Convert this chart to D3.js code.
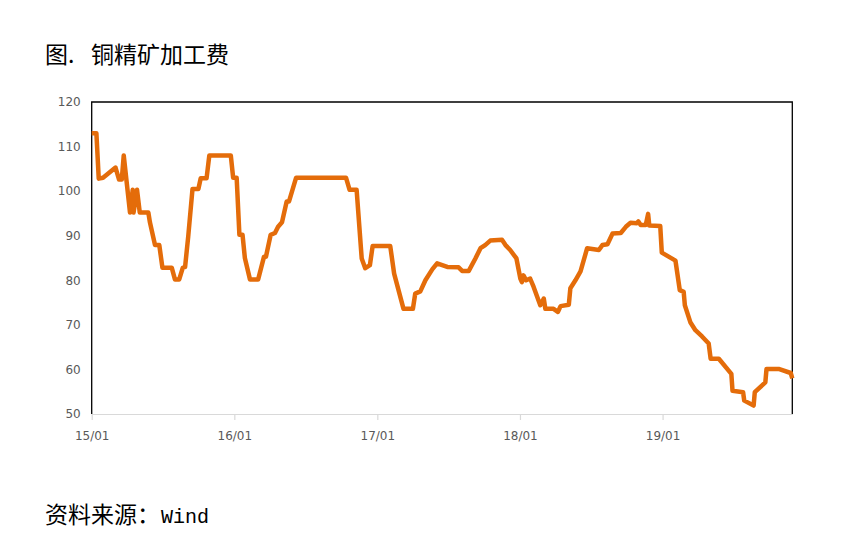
<!DOCTYPE html>
<html>
<head>
<meta charset="utf-8">
<script src="https://cdn.jsdelivr.net/npm/d3@7"></script>
<style>
body{margin:0;background:#fff;}
text{font-family:"DejaVu Sans",sans-serif;}
</style>
</head>
<body>
<div id="plot"></div>
<script>
// 铜精矿加工费 (Wind)

var dates = [
 "2015-01-01","2015-01-13","2015-01-19","2015-01-30","2015-03-03","2015-03-12","2015-03-19","2015-03-24","2015-04-09","2015-04-16","2015-04-18","2015-04-27","2015-05-04","2015-05-26","2015-05-30","2015-06-12","2015-06-23","2015-07-01","2015-07-25","2015-08-02","2015-08-13","2015-08-22","2015-08-28","2015-09-05","2015-09-16","2015-10-01","2015-10-07","2015-10-22","2015-10-29","2015-12-23","2015-12-29",
 "2016-01-07","2016-01-14","2016-01-22","2016-01-28","2016-02-10","2016-03-02","2016-03-17","2016-03-22","2016-04-03","2016-04-14","2016-04-22","2016-05-02","2016-05-14","2016-05-20","2016-06-07","2016-10-13","2016-10-22","2016-11-09","2016-11-22","2016-12-01","2016-12-13","2016-12-20",
 "2017-02-03","2017-02-13","2017-03-09","2017-04-02","2017-04-08","2017-04-21","2017-05-04","2017-05-22","2017-06-03","2017-06-29","2017-07-28","2017-08-06","2017-08-23","2017-09-09","2017-09-22","2017-10-04","2017-10-17","2017-11-16","2017-11-25","2017-12-07","2017-12-23",
 "2018-01-02","2018-01-06","2018-01-10","2018-01-17","2018-01-27","2018-02-05","2018-02-22","2018-03-03","2018-03-07","2018-03-28","2018-04-08","2018-04-15","2018-05-06","2018-05-10","2018-05-23","2018-06-05","2018-06-22","2018-07-22","2018-07-31","2018-08-13","2018-08-26","2018-09-16","2018-09-29","2018-10-11","2018-10-27","2018-10-31","2018-11-06","2018-11-19","2018-11-25","2018-11-28","2018-12-26","2018-12-30",
 "2019-02-03","2019-02-14","2019-02-24","2019-02-27","2019-03-13","2019-03-26","2019-04-12","2019-04-29","2019-05-04","2019-05-25","2019-06-26","2019-06-29","2019-07-26","2019-07-29","2019-08-22","2019-08-25","2019-09-21","2019-09-24","2019-10-25","2019-11-25","2019-11-29"
];

var fees = [
 113,113,102.8,103,105.3,102.6,102.6,108,95.2,100.3,95.2,100.3,95.2,95.2,93,87.9,87.9,82.8,82.8,80.2,80.2,82.8,83,89.8,100.5,100.5,102.9,102.9,108,108,103,
 103,90.2,90.2,85,80.2,80.2,85.3,85.3,90.2,90.6,92,93,97.7,97.7,103,103,100.3,100.3,84.9,82.7,83.4,87.7,
 87.7,81.5,73.6,73.6,77,77.5,80,82.5,83.8,83,82.9,82.1,82.1,84.9,87.2,87.9,88.9,89.1,87.9,86.8,84.9,
 80.4,79.6,81.1,80,80.4,78.5,74.4,75.9,73.6,73.6,72.9,74.2,74.5,78.2,80,82,87.2,86.8,87.9,88.1,90.5,90.6,92,92.9,92.8,93.2,92.4,92.4,94.9,92.3,92.2,86.2,
 84.4,77.8,77.4,74.4,70.6,68.8,67.4,65.8,62.4,62.4,59,55.2,54.9,53,51.9,54.9,57.1,60.1,60.1,59.2,58
];

var xTicks = ["2015-01-01","2016-01-01","2017-01-01","2018-01-01","2019-01-01"];
var yTicks = [50,60,70,80,90,100,110,120];

var titleHead = "图.",
	titleText = "铜精矿加工费",
	sourceHead = "资料来源：",
	sourceText = "Wind";

var parseDate = d3.timeParse('%Y-%m-%d');

var data = dates.map(function(d,i){
	return {date: parseDate(d), fee: fees[i]};
});

var W = 865, H = 554;
var m = {l:91.7, r:792.3, t:102, b:414};

var svg = d3.select('#plot')
	.append('svg')
	.attr('width',W)
	.attr('height',H);

svg.append('rect').attr('width',W).attr('height',H).attr('fill','#fff');

var scaleX = d3.scaleTime()
	.domain([parseDate(dates[0]), parseDate(dates[dates.length-1])])
	.range([m.l,m.r]);

var scaleY = d3.scaleLinear()
	.domain([50,120])
	.range([m.b,m.t]);

// title and source
var title = svg.append('text')
	.attr('y',63)
	.style('font-family','"Noto Sans CJK SC"')
	.style('font-size','23px')
	.attr('fill','#000');
title.append('tspan').attr('x',45).text(titleHead);
title.append('tspan').attr('x',91).text(titleText);

var src = svg.append('text')
	.attr('y',523)
	.style('font-family','"Noto Sans CJK SC"')
	.style('font-size','23px')
	.attr('fill','#000');
src.append('tspan').attr('x',45).text(sourceHead);
src.append('tspan').attr('x',161).style('font-family','"Liberation Mono"').style('font-size','20px').text(sourceText);

// x axis
var xAxis = d3.axisBottom(scaleX)
	.tickValues(xTicks.map(parseDate))
	.tickFormat(d3.timeFormat('%y/%m'))
	.tickSize(6)
	.tickSizeOuter(0);

var gx = svg.append('g')
	.attr('transform','translate(0,'+m.b+')')
	.call(xAxis);
gx.select('.domain').attr('stroke','#d9d9d9').attr('stroke-width',1.2);
gx.selectAll('.tick line').attr('stroke','#d9d9d9').attr('stroke-width',1.2);
gx.selectAll('.tick text')
	.attr('dy','1.45em')
	.attr('fill','#595959')
	.style('font-family','"DejaVu Sans"')
	.style('font-size','12px');

// y axis
var yAxis = d3.axisLeft(scaleY)
	.tickValues(yTicks)
	.tickSize(0)
	.tickPadding(11);

var gy = svg.append('g')
	.attr('transform','translate('+m.l+',0)')
	.call(yAxis);
gy.select('.domain').remove();
gy.selectAll('.tick text')
	.attr('fill','#595959')
	.style('font-family','"DejaVu Sans"')
	.style('font-size','12px');

// plot frame (top, left, right)
svg.append('path')
	.attr('d','M'+m.l+','+m.b+'V'+m.t+'H'+m.r+'V'+m.b)
	.attr('fill','none')
	.attr('stroke','#000')
	.attr('stroke-width',1.3);

// line
var line = d3.line()
	.x(function(d){return scaleX(d.date)})
	.y(function(d){return scaleY(d.fee)});

svg.append('path')
	.datum(data)
	.attr('d',line)
	.attr('fill','none')
	.attr('stroke','#E46C0A')
	.attr('stroke-width',4.5)
	.attr('stroke-linejoin','round');

</script>
</body>
</html>
